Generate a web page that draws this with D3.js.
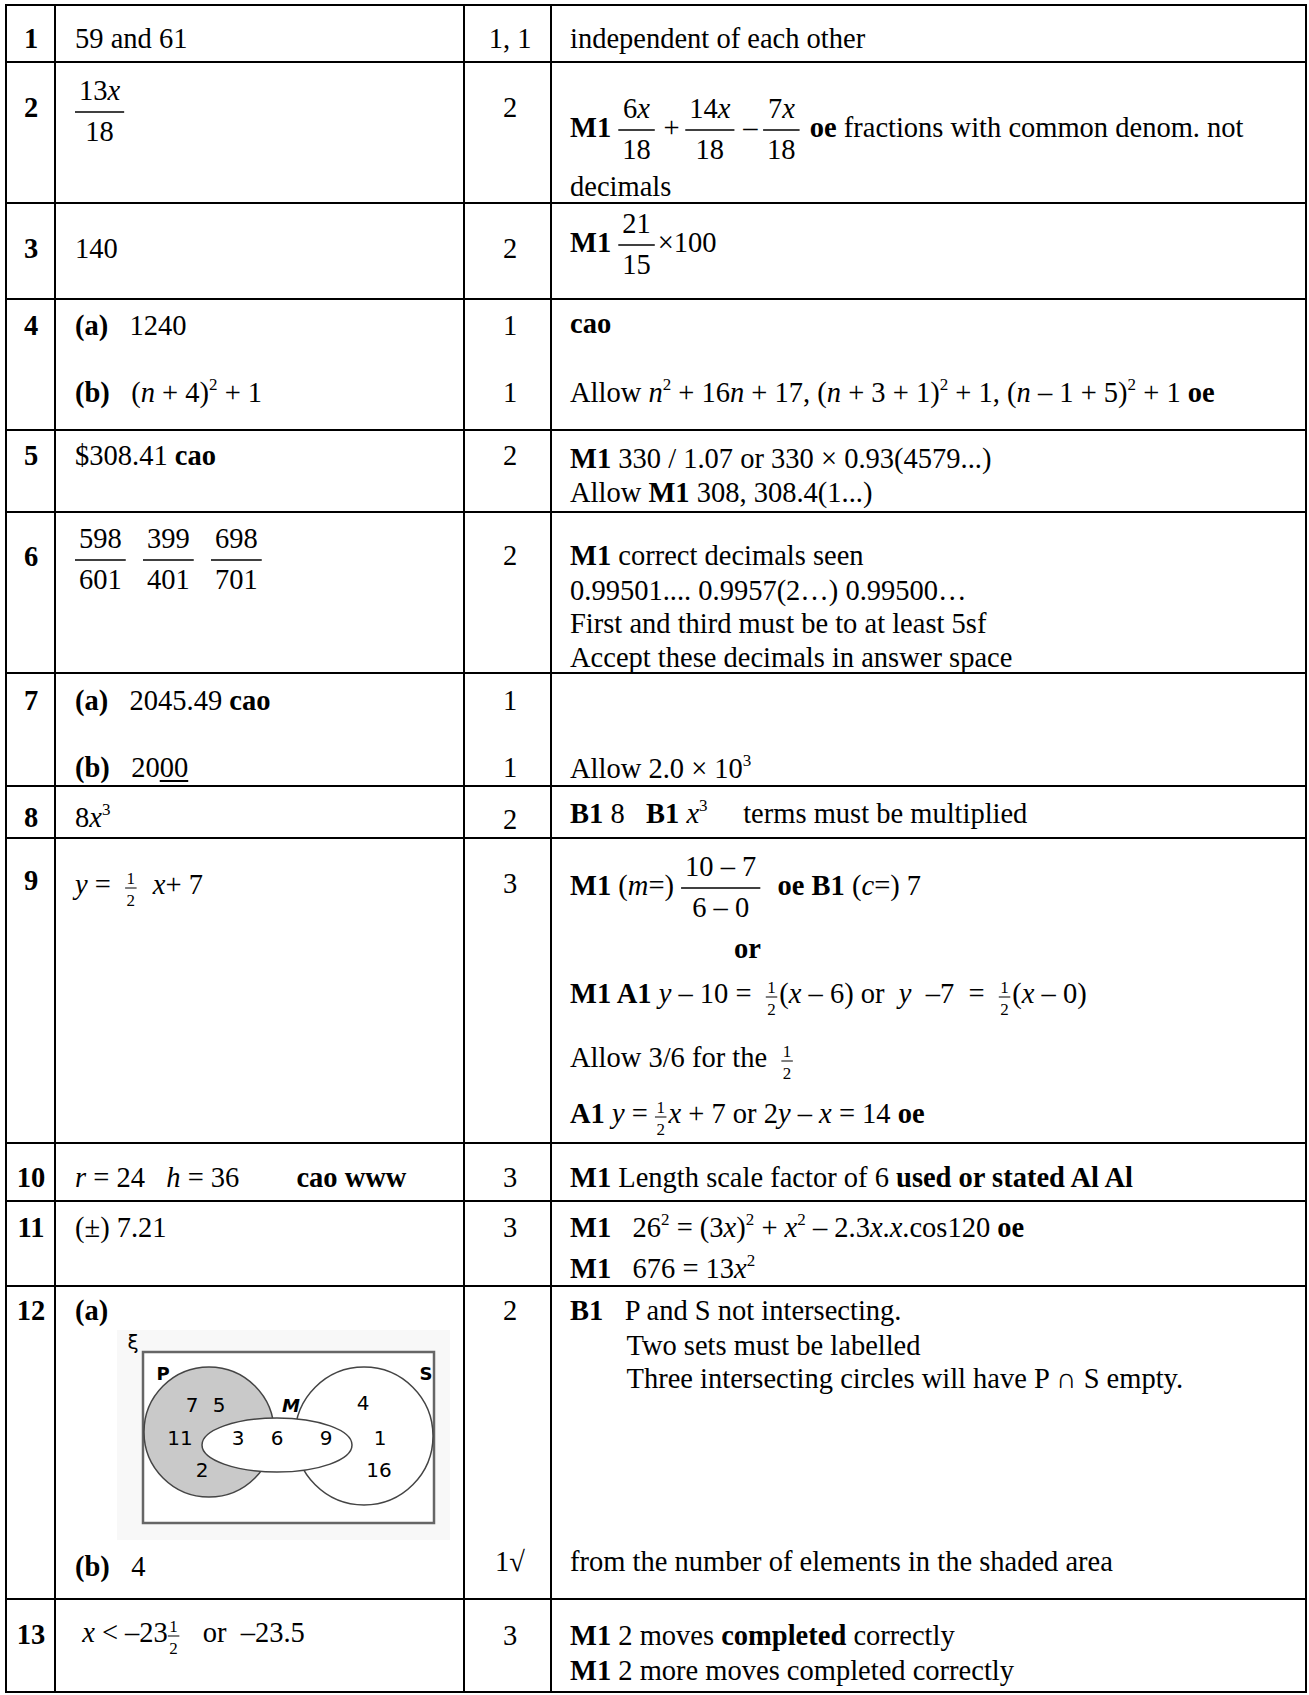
<!DOCTYPE html>
<html lang="en">
<head>
<meta charset="UTF-8">
<script src="https://cdn.jsdelivr.net/npm/d3@7"></script>
<title>Mark scheme</title>
<style>
  body { margin: 0; background: #fff; }
  svg text { font-family: "Liberation Serif", "Times New Roman", serif; white-space: pre; fill: #000; }
</style>
</head>
<body>
<svg id="sheet"></svg>
<script>
// table content, one entry per question row
// markup: **bold**  _italic_  ^sup^  [num|den] fraction  {num|den} small fraction  ~underline~
const questionNums = ["1", "2", "3", "4", "5", "6", "7", "8", "9", "10", "11", "12", "13"];

const answers = [
  ["59 and 61"],
  ["[13_x_|18]"],
  ["140"],
  ["**(a)**   1240", "**(b)**   (_n_ + 4)^2^ + 1"],
  ["$308.41 **cao**"],
  ["[598|601]  [399|401]  [698|701]"],
  ["**(a)**   2045.49 **cao**", "**(b)**   20~00~"],
  ["8_x_^3^"],
  ["_y_ =  {1|2}  _x_+ 7"],
  ["_r_ = 24   _h_ = 36        **cao www**"],
  ["(±) 7.21"],
  ["**(a)**", "**(b)**   4"],
  [" _x_ < –23{1|2}   or  –23.5"]
];

const marks = [
  ["1, 1"], ["2"], ["2"], ["1", "1"], ["2"], ["2"], ["1", "1"], ["2"], ["3"], ["3"], ["3"], ["2", "1√"], ["3"]
];

const guidance = [
  ["independent of each other"],
  ["**M1** [6_x_|18]\u2009+\u2009[14_x_|18]\u2009–\u2009[7_x_|18] **oe** fractions with common denom. not", "decimals"],
  ["**M1** [21|15]×100"],
  ["**cao**", "Allow _n_^2^ + 16_n_ + 17, (_n_ + 3 + 1)^2^ + 1, (_n_ – 1 + 5)^2^ + 1 **oe**"],
  ["**M1** 330 / 1.07 or 330 × 0.93(4579...)", "Allow **M1** 308, 308.4(1...)"],
  ["**M1** correct decimals seen", "0.99501.... 0.9957(2…) 0.99500…",
   "First and third must be to at least 5sf", "Accept these decimals in answer space"],
  ["", "Allow 2.0 × 10^3^"],
  ["**B1** 8   **B1** _x_^3^     terms must be multiplied"],
  ["**M1** (_m_=) [10 – 7|6 – 0]  **oe B1** (_c_=) 7",
   "                       **or**",
   "**M1 A1** _y_ – 10 =  {1|2}(_x_ – 6) or  _y_  –7  =  {1|2}(_x_ – 0)",
   "Allow 3/6 for the  {1|2}",
   "**A1** _y_ = {1|2}_x_ + 7 or 2_y_ – _x_ = 14 **oe**"],
  ["**M1** Length scale factor of 6 **used or stated Al Al**"],
  ["**M1**   26^2^ = (3_x_)^2^ + _x_^2^ – 2.3_x_._x_.cos120 **oe**", "**M1**   676 = 13_x_^2^"],
  ["**B1**   P and S not intersecting.", "        Two sets must be labelled",
   "        Three intersecting circles will have P ∩ S empty.",
   "from the number of elements in the shaded area"],
  ["**M1** 2 moves **completed** correctly", "**M1** 2 more moves completed correctly"]
];

// Venn diagram of 12(a)
const vennSetLabels = ["P", "S", "M"];
const vennElements = ["7", "5", "4", "11", "3", "6", "9", "1", "2", "16"];

// ---- layout ----
const W = 1309, H = 1695;
const rowEdges = [5, 62, 203, 299, 430, 512, 673, 786, 838, 1143, 1201, 1286, 1599, 1692];
const colEdges = [6, 55, 464, 551, 1306];
const numY = [48, 117, 258, 335, 465, 566, 710, 827, 890, 1187, 1237, 1320, 1644];
const answerY = [[48], [119], [258], [335, 402], [465], [567], [710, 777], [827], [894], [1187], [1237], [1320, 1576], [1642]];
const marksY = [[48], [117], [258], [335, 402], [465], [565], [710, 777], [829], [893], [1187], [1237], [1320, 1571], [1645]];
const guideY = [[48], [137, 196], [252], [333, 402], [468, 502], [565, 600, 633, 667], [710, 778], [823],
  [895, 958, 1003, 1067, 1123], [1187], [1237, 1278], [1320, 1355, 1388, 1571], [1645, 1680]];

const vennSetPos = [[163, 1380], [426, 1380], [291, 1412]];
const vennElemPos = [[192, 1412], [219, 1412], [363, 1410], [180, 1445], [238, 1445], [277, 1445],
  [326, 1445], [380, 1445], [202, 1477], [379, 1477]];

const FS = 28.5, SUP = 17, SMALL = 17;

const col = d3.scaleOrdinal()
  .domain(["num", "answer", "marks", "guide"])
  .range([31, 75, 510, 570]);

const svg = d3.select("#sheet").attr("width", W).attr("height", H);
svg.append("rect").attr("width", W).attr("height", H).attr("fill", "#fff");

const TOKEN = /\*\*(.+?)\*\*|_(.+?)_|\^(.+?)\^|\[(.+?)\|(.+?)\]|\{(.+?)\|(.+?)\}|~(.+?)~/g;

function parse(str) {
  const re = new RegExp(TOKEN.source, "g");
  const runs = [];
  let last = 0, m;
  while ((m = re.exec(str))) {
    if (m.index > last) runs.push({ text: str.slice(last, m.index) });
    if (m[1] !== undefined) runs.push({ text: m[1], bold: true });
    else if (m[2] !== undefined) runs.push({ text: m[2], italic: true });
    else if (m[3] !== undefined) runs.push({ text: m[3], sup: true });
    else if (m[4] !== undefined) runs.push({ frac: true, num: m[4], den: m[5] });
    else if (m[6] !== undefined) runs.push({ frac: true, small: true, num: m[6], den: m[7] });
    else runs.push({ text: m[8], under: true });
    last = re.lastIndex;
  }
  if (last < str.length) runs.push({ text: str.slice(last) });
  return runs;
}

// lays runs out left to right, returns the width used
function renderRuns(g, runs, x, y, size) {
  let cx = x;
  runs.forEach(r => {
    if (r.frac) {
      const fs = r.small ? SMALL : size;
      const off = r.small ? { num: -10, bar: -6, den: 12 } : { num: -19, bar: -7, den: 22 };
      const ng = g.append("g"), dg = g.append("g");
      const wn = renderRuns(ng, parse(r.num), 0, y + off.num, fs);
      const wd = renderRuns(dg, parse(r.den), 0, y + off.den, fs);
      const pad = r.small ? 1.5 : 4;
      const w = Math.max(wn, wd) + 2 * pad;
      ng.attr("transform", `translate(${cx + (w - wn) / 2},0)`);
      dg.attr("transform", `translate(${cx + (w - wd) / 2},0)`);
      g.append("line")
        .attr("x1", cx).attr("x2", cx + w)
        .attr("y1", y + off.bar).attr("y2", y + off.bar)
        .attr("stroke", "#000").attr("stroke-width", r.small ? 1 : 1.4);
      cx += w + (r.small ? 2 : 3);
    } else {
      const t = g.append("text")
        .attr("xml:space", "preserve")
        .attr("x", cx)
        .attr("y", r.sup ? y - 12 : y)
        .attr("font-size", r.sup ? (size === FS ? SUP : size * 0.6) : size)
        .attr("font-weight", r.bold ? 700 : null)
        .attr("font-style", r.italic ? "italic" : null)
        .text(r.text);
      const w = t.node().getComputedTextLength();
      if (r.under) {
        g.append("line")
          .attr("x1", cx).attr("x2", cx + w)
          .attr("y1", y + 4).attr("y2", y + 4)
          .attr("stroke", "#000").attr("stroke-width", 2);
      }
      cx += w;
    }
  });
  return cx - x;
}

function drawLine(parent, str, x, y, anchor) {
  const g = parent.append("g");
  const w = renderRuns(g, parse(str), 0, y, FS);
  g.attr("transform", `translate(${anchor === "middle" ? x - w / 2 : x},0)`);
}

// Venn diagram (drawn first so the grid stays on top)
const venn = svg.append("g").attr("class", "venn");
venn.append("rect").attr("x", 117).attr("y", 1330).attr("width", 333).attr("height", 210).attr("fill", "#f8f8f8");
venn.append("text").attr("x", 133).attr("y", 1349).attr("text-anchor", "middle")
  .style("font-family", "DejaVu Sans").attr("font-size", 20).attr("fill", "#333").text("ξ");
venn.append("rect").attr("x", 143).attr("y", 1352).attr("width", 291).attr("height", 171)
  .attr("fill", "#fff").attr("stroke", "#666").attr("stroke-width", 2.5);
venn.append("circle").attr("cx", 209).attr("cy", 1432).attr("r", 65)
  .attr("fill", "#c9c9c9").attr("stroke", "#444").attr("stroke-width", 1.5);
venn.append("circle").attr("cx", 364).attr("cy", 1436).attr("r", 69)
  .attr("fill", "#fff").attr("stroke", "#444").attr("stroke-width", 1.5);
venn.append("ellipse").attr("cx", 277).attr("cy", 1445).attr("rx", 75).attr("ry", 27)
  .attr("fill", "#fff").attr("stroke", "#444").attr("stroke-width", 1.5);

venn.selectAll("text.set")
  .data(vennSetLabels)
  .join("text")
  .attr("class", "set")
  .attr("x", (d, i) => vennSetPos[i][0])
  .attr("y", (d, i) => vennSetPos[i][1])
  .attr("text-anchor", "middle")
  .style("font-family", "DejaVu Sans")
  .attr("font-size", 18)
  .attr("font-weight", 700)
  .attr("font-style", (d, i) => i === 2 ? "italic" : null)
  .attr("fill", "#333")
  .text(d => d);

venn.selectAll("text.elem")
  .data(vennElements)
  .join("text")
  .attr("class", "elem")
  .attr("x", (d, i) => vennElemPos[i][0])
  .attr("y", (d, i) => vennElemPos[i][1])
  .attr("text-anchor", "middle")
  .style("font-family", "DejaVu Sans")
  .attr("font-size", 20)
  .attr("fill", "#222")
  .text(d => d);

// cell text
const cells = svg.append("g");
questionNums.forEach((q, i) => {
  drawLine(cells, `**${q}**`, col("num"), numY[i], "middle");
  answers[i].forEach((s, j) => drawLine(cells, s, col("answer"), answerY[i][j], "start"));
  marks[i].forEach((s, j) => drawLine(cells, s, col("marks"), marksY[i][j], "middle"));
  guidance[i].forEach((s, j) => drawLine(cells, s, col("guide"), guideY[i][j], "start"));
});

// grid
const grid = svg.append("g").attr("stroke", "#000").attr("stroke-width", 2);
grid.selectAll("line.h")
  .data(rowEdges)
  .join("line")
  .attr("class", "h")
  .attr("x1", colEdges[0] - 1).attr("x2", colEdges[colEdges.length - 1] + 1)
  .attr("y1", d => d).attr("y2", d => d);
grid.selectAll("line.v")
  .data(colEdges)
  .join("line")
  .attr("class", "v")
  .attr("x1", d => d).attr("x2", d => d)
  .attr("y1", rowEdges[0]).attr("y2", rowEdges[rowEdges.length - 1]);
</script>
</body>
</html>
